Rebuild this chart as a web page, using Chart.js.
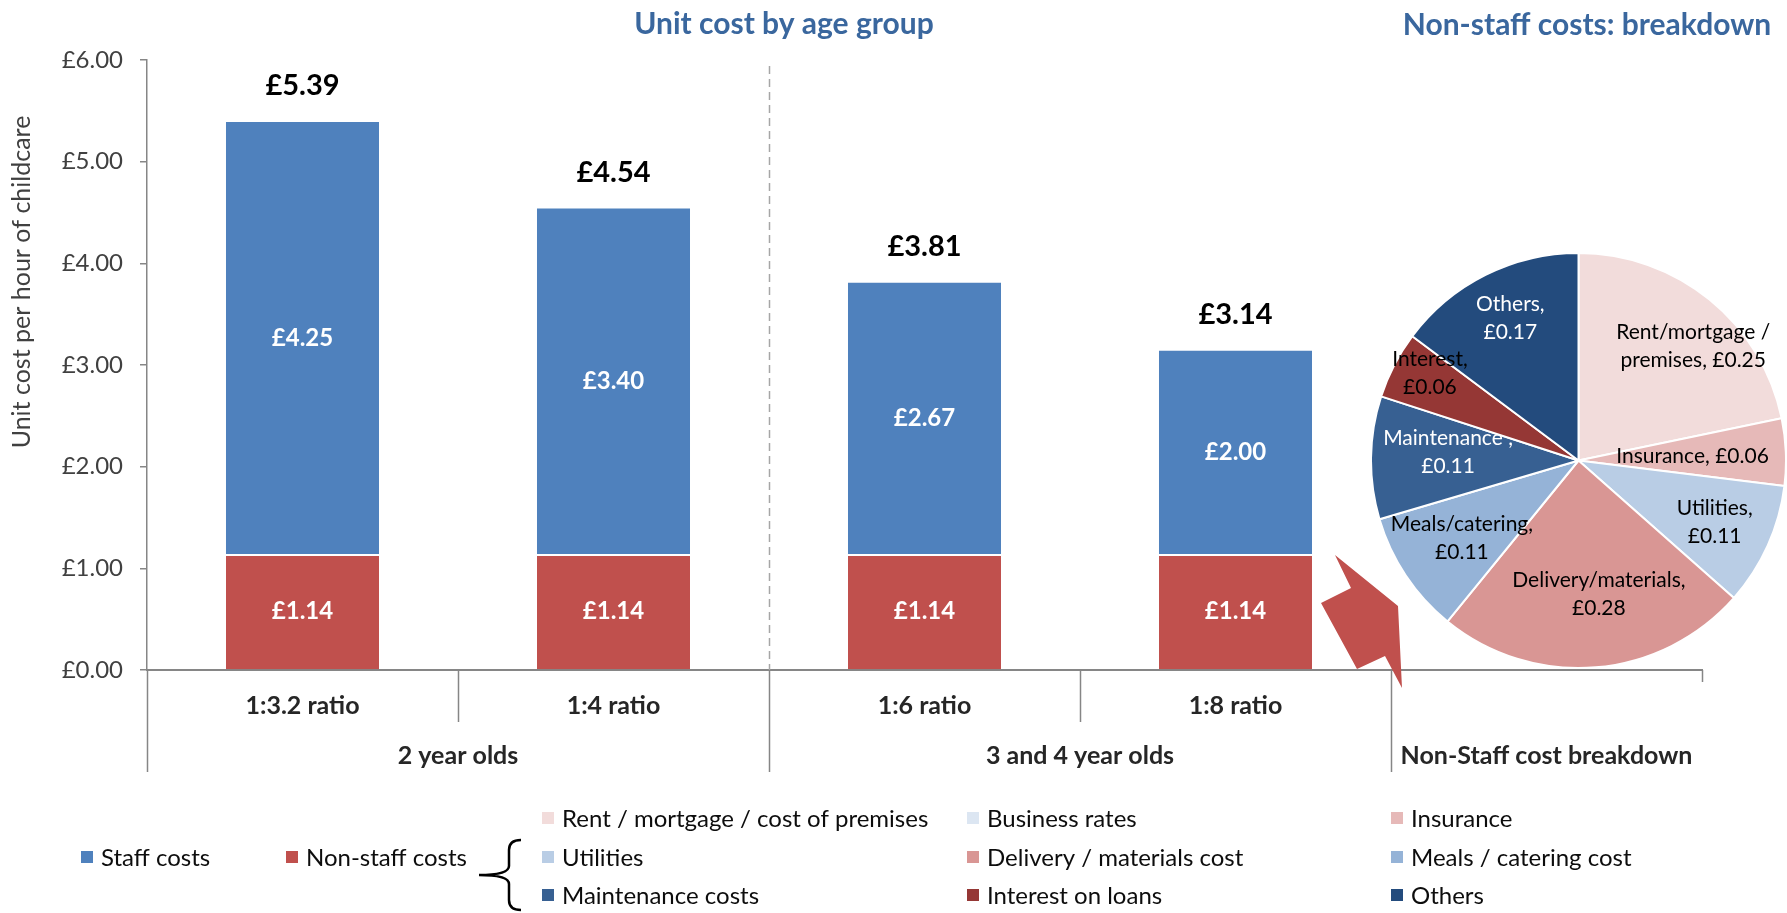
<!DOCTYPE html>
<html>
<head>
<meta charset="utf-8">
<title>Unit cost by age group</title>
<script src="https://cdn.jsdelivr.net/npm/chart.js@4.4.1/dist/chart.umd.min.js"></script>
<style>
    html, body { margin: 0; padding: 0; background: #fff; overflow: hidden; }
    #costWrap { position: absolute; left: 0; top: 0; width: 1787px; height: 913px; }
    #breakdownWrap { position: absolute; left: 1370px; top: 252px; width: 417px; height: 417px; }
</style>
</head>
<body>
<div id="costWrap"><canvas id="chartCost"></canvas></div>
<div id="breakdownWrap"><canvas id="chartBreakdown"></canvas></div>
<script>
// bar chart data
const ratios = ['1:3.2 ratio', '1:4 ratio', '1:6 ratio', '1:8 ratio', ''];
const ageGroups = ['2 year olds', '3 and 4 year olds', 'Non-Staff cost breakdown'];
const ageGroupSpans = [2, 2, 1];
const staffCosts = [4.25, 3.40, 2.67, 2.00, null];
const nonStaffCosts = [1.14, 1.14, 1.14, 1.14, null];
const yTicks = [0, 1, 2, 3, 4, 5, 6];

// non-staff breakdown data
const breakdownNames = ['Rent / mortgage / cost of premises', 'Business rates', 'Insurance', 'Utilities',
    'Delivery / materials cost', 'Meals / catering cost', 'Maintenance costs', 'Interest on loans', 'Others'];
const breakdownShort = ['Rent/mortgage /\npremises', 'Business rates', 'Insurance', 'Utilities',
    'Delivery/materials', 'Meals/catering', 'Maintenance ', 'Interest', 'Others'];
const breakdownValues = [0.25, 0, 0.06, 0.11, 0.28, 0.11, 0.11, 0.06, 0.17];

const BLUE = '#4f81bd';
const RED = '#c0504d';
const breakdownColors = ['#f2dcdb', '#dce6f2', '#e6b9b8', '#b9cde5', '#d99694', '#95b3d7', '#376092', '#953735', '#234b7d'];

Chart.defaults.font.family = 'Lato, "Open Sans", sans-serif';
Chart.defaults.animation = false;

const money = v => '£' + Number(v).toFixed(2);

renderCostChart();
renderBreakdown();

function renderCostChart() {
    // white value labels inside segments, totals on top
    const valueLabels = {
        id: 'valueLabels',
        afterDatasetsDraw(chart) {
            const ctx = chart.ctx;
            const yScale = chart.scales.y;
            ctx.save();
            ctx.textAlign = 'center';
            ctx.textBaseline = 'middle';
            ctx.font = 'bold 24px Lato';
            ctx.fillStyle = '#ffffff';
            chart.data.datasets.forEach((ds, di) => {
                chart.getDatasetMeta(di).data.forEach((bar, i) => {
                    if (ds.data[i] == null) return;
                    ctx.fillText(money(ds.data[i]), bar.x, (bar.y + bar.base) / 2);
                });
            });
            ctx.font = 'bold 29px Lato';
            ctx.fillStyle = '#000000';
            const bars = chart.getDatasetMeta(0).data;
            staffCosts.forEach((v, i) => {
                if (v == null) return;
                const total = v + nonStaffCosts[i];
                ctx.fillText(money(total), bars[i].x, yScale.getPixelForValue(total) - 36);
            });
            ctx.restore();
        }
    };

    // grouped category axis, divider, arrow, titles and legend
    const decorations = {
        id: 'decorations',
        afterDraw(chart) {
            const ctx = chart.ctx;
            const xs = chart.scales.x;
            const axisY = chart.chartArea.bottom;
            const step = (xs.right - xs.left) / ratios.length;
            ctx.save();

            // separators below the axis
            ctx.strokeStyle = '#868686';
            ctx.lineWidth = 1.5;
            let edge = 0;
            const groupEdges = [0];
            ageGroupSpans.forEach(s => { edge += s; groupEdges.push(edge); });
            for (let b = 0; b <= ratios.length; b++) {
                const x = Math.round(xs.left + b * step) + 0.5;
                let bottom = 722;
                if (b === ratios.length) bottom = 682;
                else if (groupEdges.includes(b)) bottom = 772;
                ctx.beginPath();
                ctx.moveTo(x, axisY);
                ctx.lineTo(x, bottom);
                ctx.stroke();
            }

            // age group labels
            ctx.fillStyle = '#262626';
            ctx.font = 'bold 25px Lato';
            ctx.textAlign = 'center';
            ctx.textBaseline = 'middle';
            ageGroups.forEach((g, i) => {
                const mid = xs.left + (groupEdges[i] + groupEdges[i + 1]) / 2 * step;
                ctx.fillText(g, mid, 756);
            });

            // dashed divider between the age groups
            const divX = Math.round(xs.left + groupEdges[1] * step) + 0.5;
            ctx.setLineDash([8, 5]);
            ctx.strokeStyle = '#a6a6a6';
            ctx.beginPath();
            ctx.moveTo(divX, 66);
            ctx.lineTo(divX, axisY);
            ctx.stroke();
            ctx.setLineDash([]);

            // arrow pointing at the pie
            ctx.fillStyle = RED;
            ctx.beginPath();
            ctx.moveTo(1335, 555);
            ctx.lineTo(1398, 606);
            ctx.lineTo(1402, 688);
            ctx.lineTo(1385, 656);
            ctx.lineTo(1357, 669);
            ctx.lineTo(1321, 603);
            ctx.lineTo(1351, 588);
            ctx.closePath();
            ctx.fill();

            // titles
            ctx.fillStyle = '#3a679e';
            ctx.font = 'bold 30px Lato';
            ctx.fillText('Unit cost by age group', 784, 24);
            ctx.fillText('Non-staff costs: breakdown', 1587, 25);

            // y axis title
            ctx.save();
            ctx.translate(22, 282);
            ctx.rotate(-Math.PI / 2);
            ctx.fillStyle = '#404040';
            ctx.font = '25px Lato';
            ctx.fillText('Unit cost per hour of childcare', 0, 0);
            ctx.restore();

            // legend
            ctx.font = '24px Lato';
            ctx.textAlign = 'left';
            const item = (text, color, x, y) => {
                ctx.fillStyle = color;
                ctx.fillRect(x, y - 6, 12, 12);
                ctx.fillStyle = '#0d0d0d';
                ctx.fillText(text, x + 20, y + 1);
            };
            item('Staff costs', BLUE, 81, 857);
            item('Non-staff costs', RED, 286, 857);
            const cols = [542, 967, 1391];
            const rows = [818, 857, 895];
            breakdownNames.forEach((n, i) => item(n, breakdownColors[i], cols[i % 3], rows[Math.floor(i / 3)]));

            // brace joining non-staff costs to its breakdown
            ctx.strokeStyle = '#000';
            ctx.lineWidth = 2.5;
            ctx.beginPath();
            ctx.moveTo(521, 840);
            ctx.quadraticCurveTo(509, 840, 509, 850);
            ctx.lineTo(509, 866);
            ctx.quadraticCurveTo(509, 875, 479, 875);
            ctx.quadraticCurveTo(509, 875, 509, 884);
            ctx.lineTo(509, 900);
            ctx.quadraticCurveTo(509, 910, 521, 910);
            ctx.stroke();

            ctx.restore();
        }
    };

    const data = {
        labels: ratios,
        datasets: [{
            label: 'Non-staff costs',
            data: nonStaffCosts,
            backgroundColor: RED,
            borderColor: '#ffffff',
            borderWidth: { top: 2, bottom: 0, left: 0, right: 0 },
            borderSkipped: 'start'
        }, {
            label: 'Staff costs',
            data: staffCosts,
            backgroundColor: BLUE,
            borderWidth: 0
        }]
    };

    const config = {
        type: 'bar',
        data: data,
        options: {
            responsive: true,
            maintainAspectRatio: false,
            layout: { padding: { left: 0, top: 60, right: 85, bottom: 0 } },
            datasets: { bar: { categoryPercentage: 1, barPercentage: 0.492 } },
            scales: {
                x: {
                    stacked: true,
                    grid: { display: false },
                    border: { color: '#868686', width: 2 },
                    ticks: {
                        autoSkip: false, maxRotation: 0, padding: 13,
                        color: '#262626', font: { size: 25, weight: 'bold' }
                    },
                    afterFit: s => { s.height = 243; }
                },
                y: {
                    stacked: true,
                    min: 0,
                    max: 6,
                    afterBuildTicks: s => { s.ticks = yTicks.map(v => ({ value: v })); },
                    ticks: { callback: v => money(v), color: '#404040', font: { size: 24 }, padding: 17 },
                    grid: { drawOnChartArea: false, drawTicks: true, tickLength: 7, color: '#868686', lineWidth: 1.5 },
                    border: { color: '#868686', width: 1.5 },
                    afterFit: s => { s.width = 147; }
                }
            },
            plugins: {
                legend: { display: false },
                tooltip: { enabled: false }
            }
        },
        plugins: [valueLabels, decorations]
    };

    new Chart(document.getElementById('chartCost'), config);
}

function renderBreakdown() {
    // [angle shift in degrees, radius fraction] for each slice label
    const labelPlace = [[6, 0.78], [0, 0], [0, 0.55], [0, 0.72], [-4, 0.65], [0, 0.675], [3, 0.63], [3, 0.83], [1, 0.76]];
    const valueOnNewLine = [false, false, false, true, true, true, true, true, true];
    const labelColors = ['#000', '#000', '#000', '#000', '#000', '#000', '#fff', '#000', '#fff'];

    const sliceLabels = {
        id: 'sliceLabels',
        afterDatasetsDraw(chart) {
            const ctx = chart.ctx;
            ctx.save();
            ctx.font = '21px Lato';
            ctx.textAlign = 'center';
            ctx.textBaseline = 'middle';
            chart.getDatasetMeta(0).data.forEach((arc, i) => {
                const v = breakdownValues[i];
                if (!v) return;
                const p = arc.getProps(['x', 'y', 'startAngle', 'endAngle', 'outerRadius'], true);
                const a = (p.startAngle + p.endAngle) / 2 + labelPlace[i][0] * Math.PI / 180;
                const r = p.outerRadius * labelPlace[i][1];
                const cx = p.x + r * Math.cos(a);
                const cy = p.y + r * Math.sin(a);
                const text = breakdownShort[i] + ',' + (valueOnNewLine[i] ? '\n' : ' ') + money(v);
                const lines = text.split('\n');
                ctx.fillStyle = labelColors[i];
                lines.forEach((ln, k) => ctx.fillText(ln, cx, cy + (k - (lines.length - 1) / 2) * 28));
            });
            ctx.restore();
        }
    };

    new Chart(document.getElementById('chartBreakdown'), {
        type: 'pie',
        data: {
            labels: breakdownNames,
            datasets: [{
                data: breakdownValues,
                backgroundColor: breakdownColors,
                borderColor: '#ffffff',
                borderWidth: 2
            }]
        },
        options: {
            responsive: true,
            maintainAspectRatio: false,
            layout: { padding: 0 },
            plugins: {
                legend: { display: false },
                tooltip: { enabled: false }
            }
        },
        plugins: [sliceLabels]
    });
}
</script>
</body>
</html>
